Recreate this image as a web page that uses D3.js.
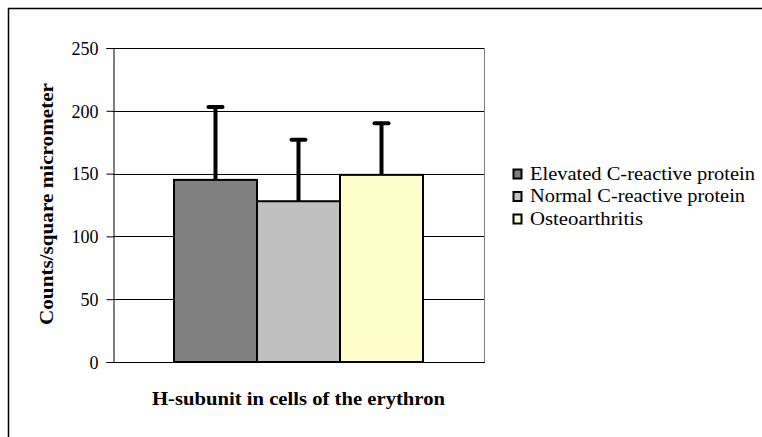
<!doctype html>
<html>
  <head>
    <meta charset="utf-8">
    <title>H-subunit chart</title>
    <script src="https://cdnjs.cloudflare.com/ajax/libs/d3/7.8.5/d3.min.js"></script>
    <style>
      body { margin: 0; background: #fff; }
      text { font-family: "Liberation Serif", "DejaVu Serif", serif; fill: #000; }
    </style>
  </head>
  <body>
    <div id="chart"></div>
    <script>
      // data
      const groups = ['Elevated C-reactive protein', 'Normal C-reactive protein', 'Osteoarthritis'];
      const means = [145, 128, 149];
      const errors = [58, 49, 41];
      const colors = ['#808080', '#c0c0c0', '#ffffcc'];
      const yTicks = [0, 50, 100, 150, 200, 250];
      // widths of the legend labels in the picture (Garamond is wider than what we have)
      const legendWidths = [225, 215, 113];

      const W = 762, H = 437;
      const svg = d3.select('#chart').append('svg')
        .attr('width', W).attr('height', H);

      // outer frame (only top and left are inside the picture)
      svg.append('rect')
        .attr('x', 8.5).attr('y', 8.5)
        .attr('width', W + 20).attr('height', H + 20)
        .attr('fill', 'none').attr('stroke', '#000').attr('stroke-width', 1.5);

      const plot = { left: 113, right: 484, top: 48, bottom: 362 };

      const y = d3.scaleLinear().domain([0, 250]).range([plot.bottom, plot.top]);
      // one category, bars side by side inside it
      const x = d3.scaleBand().domain(groups)
        .range([174, 423]).paddingInner(0).paddingOuter(0);

      // gridlines
      svg.append('g').selectAll('line')
        .data(yTicks.filter(d => d > 0))
        .join('line')
        .attr('x1', plot.left).attr('x2', plot.right)
        .attr('y1', d => Math.round(y(d)) + 0.5).attr('y2', d => Math.round(y(d)) + 0.5)
        .attr('stroke', '#000').attr('stroke-width', 1);

      // right edge of plot
      svg.append('line')
        .attr('x1', plot.right + 0.5).attr('x2', plot.right + 0.5)
        .attr('y1', plot.top).attr('y2', plot.bottom)
        .attr('stroke', '#808080');

      // y axis
      const yAxis = svg.append('g')
        .attr('transform', `translate(${plot.left + 0.5},0)`)
        .call(d3.axisLeft(y).tickValues(yTicks).tickSize(7).tickPadding(8));
      yAxis.select('.domain').attr('stroke', '#000');
      yAxis.selectAll('.tick line').attr('stroke', '#000');
      yAxis.selectAll('text')
        .style('font-family', '"Liberation Serif", serif')
        .style('font-size', '18px').attr('fill', '#000')
        .attr('dy', '0.35em');

      // bottom axis line
      svg.append('line')
        .attr('x1', plot.left).attr('x2', plot.right + 1)
        .attr('y1', plot.bottom + 0.5).attr('y2', plot.bottom + 0.5)
        .attr('stroke', '#000');

      // bars
      svg.append('g').selectAll('rect')
        .data(groups)
        .join('rect')
        .attr('x', d => x(d))
        .attr('y', (d, i) => y(means[i]))
        .attr('width', x.bandwidth())
        .attr('height', (d, i) => y(0) - y(means[i]))
        .attr('fill', (d, i) => colors[i])
        .attr('stroke', '#000').attr('stroke-width', 2);

      // error bars (upper only)
      const eb = svg.append('g').selectAll('g')
        .data(groups)
        .join('g');
      eb.append('line')
        .attr('x1', d => x(d) + x.bandwidth() / 2)
        .attr('x2', d => x(d) + x.bandwidth() / 2)
        .attr('y1', (d, i) => y(means[i]))
        .attr('y2', (d, i) => y(means[i] + errors[i]))
        .attr('stroke', '#000').attr('stroke-width', 4);
      eb.append('line')
        .attr('x1', d => x(d) + x.bandwidth() / 2 - 7)
        .attr('x2', d => x(d) + x.bandwidth() / 2 + 7)
        .attr('y1', (d, i) => y(means[i] + errors[i]))
        .attr('y2', (d, i) => y(means[i] + errors[i]))
        .attr('stroke', '#000').attr('stroke-width', 4).attr('stroke-linecap', 'round');

      // axis titles
      svg.append('text')
        .attr('transform', `translate(53,204) rotate(-90)`)
        .attr('text-anchor', 'middle')
        .attr('textLength', 242).attr('lengthAdjust', 'spacingAndGlyphs')
        .style('font-size', '18px').style('font-weight', 'bold')
        .text('Counts/square micrometer');

      svg.append('text')
        .attr('x', (plot.left + plot.right) / 2).attr('y', 405)
        .attr('text-anchor', 'middle')
        .attr('textLength', 293).attr('lengthAdjust', 'spacingAndGlyphs')
        .style('font-size', '18px').style('font-weight', 'bold')
        .text('H-subunit in cells of the erythron');

      // legend
      const leg = svg.append('g').selectAll('g')
        .data(groups)
        .join('g')
        .attr('transform', (d, i) => `translate(513,${169 + i * 22.5})`);
      leg.append('rect')
        .attr('x', 0.5).attr('y', 0.5).attr('width', 8).attr('height', 9)
        .attr('fill', (d, i) => colors[i])
        .attr('stroke', '#000').attr('stroke-width', 2);
      leg.append('text')
        .attr('x', 17).attr('y', 10.5)
        .attr('textLength', (d, i) => legendWidths[i]).attr('lengthAdjust', 'spacingAndGlyphs')
        .style('font-size', '18px')
        .text(d => d);
    </script>
  </body>
</html>
